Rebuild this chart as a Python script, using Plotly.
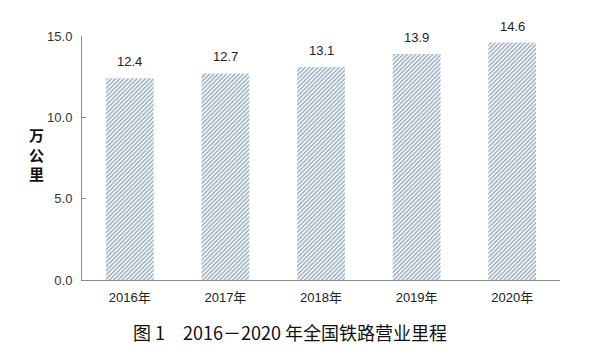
import plotly.graph_objects as go

categories = ["2016年", "2017年", "2018年", "2019年", "2020年"]
values = [12.4, 12.7, 13.1, 13.9, 14.6]
value_labels = ["12.4", "12.7", "13.1", "13.9", "14.6"]
y_ticks = [0, 5, 10, 15]
y_title = "万<br>公<br>里"
caption = "图 1　2016－2020 年全国铁路营业里程"

fig = go.Figure(
    go.Bar(
        x=categories,
        y=values,
        marker=dict(
            color="white",
            line=dict(width=0),
            pattern=dict(shape="/", fgcolor="#33597b", bgcolor="white", size=3, solidity=0.5),
        ),
    )
)

annotations = [
    dict(
        x=c, y=v, xref="x", yref="y", text=t,
        yanchor="bottom", xanchor="center", yshift=7, showarrow=False,
        font=dict(family="Liberation Sans, Arial", size=13, color="#222222"),
    )
    for c, v, t in zip(categories, values, value_labels)
]
annotations += [
    dict(
        text="<b>" + y_title + "</b>",
        xref="paper", yref="paper",
        x=-0.095, y=0.515,
        xanchor="center", yanchor="middle",
        showarrow=False,
        font=dict(family="Noto Sans CJK SC", size=15, color="#111111"),
    ),
    dict(
        text=caption,
        xref="paper", yref="paper",
        x=0.435, y=-0.213,
        xanchor="center", yanchor="middle",
        showarrow=False,
        font=dict(family="Noto Sans CJK SC", size=18, color="#111111"),
    ),
]

fig.update_layout(
    width=580,
    height=340,
    margin=dict(l=74, r=28, t=28, b=68),
    paper_bgcolor="white",
    plot_bgcolor="white",
    bargap=0.5,
    showlegend=False,
    font=dict(family="Liberation Sans, Arial", size=12, color="#222222"),
    xaxis=dict(
        showline=True,
        linecolor="#8c8c8c",
        linewidth=1,
        ticks="",
        showgrid=False,
        ticklabelstandoff=5,
        tickfont=dict(family="Liberation Sans, Noto Sans CJK SC", size=13, color="#222222"),
    ),
    yaxis=dict(
        range=[0, 15],
        tickvals=y_ticks,
        tickformat=".1f",
        showline=True,
        linecolor="#8c8c8c",
        linewidth=1,
        ticks="inside",
        ticklen=4,
        tickcolor="#8c8c8c",
        showgrid=False,
        zeroline=False,
        ticklabelstandoff=6,
        tickfont=dict(family="Liberation Sans, Arial", size=13, color="#333333"),
    ),
    annotations=annotations,
)

fig.write_html("out.html")
